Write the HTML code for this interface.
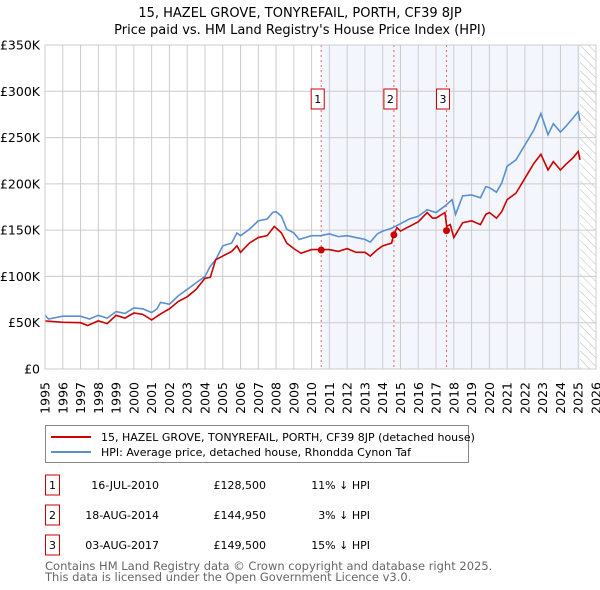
<!DOCTYPE html>
<html><head><meta charset="utf-8"><style>
body{margin:0;background:#fff;width:600px;height:590px;overflow:hidden;font-family:"Liberation Sans","DejaVu Sans",sans-serif}
svg{display:block}
</style></head><body>
<svg id="chart" width="600" height="590" viewBox="0 0 600 590" font-family="DejaVu Sans, Liberation Sans, sans-serif">
<defs><pattern id="hatch" patternUnits="userSpaceOnUse" width="6" height="6" patternTransform="rotate(-45)"><line x1="0" y1="0" x2="0" y2="6" stroke="#bbb" stroke-width="1"/></pattern></defs>
<text x="300" y="17" text-anchor="middle" font-size="13">15, HAZEL GROVE, TONYREFAIL, PORTH, CF39 8JP</text>
<text x="300" y="34" text-anchor="middle" font-size="13">Price paid vs. HM Land Registry's House Price Index (HPI)</text>
<g id="plot"></g>
<g>
<rect x="45.5" y="425.5" width="423" height="37" fill="#fff" stroke="#888"/>
<line x1="51" y1="437" x2="91" y2="437" stroke="#cc0000" stroke-width="2"/>
<text x="101" y="441" font-size="11">15, HAZEL GROVE, TONYREFAIL, PORTH, CF39 8JP (detached house)</text>
<line x1="51" y1="452" x2="91" y2="452" stroke="#5b8fd0" stroke-width="2"/>
<text x="101" y="456" font-size="11">HPI: Average price, detached house, Rhondda Cynon Taf</text>
</g>
<g id="table" font-size="11"></g>
<text x="45" y="570" font-size="11.5" fill="#666">Contains HM Land Registry data © Crown copyright and database right 2025.</text>
<text x="45" y="581" font-size="11.5" fill="#666">This data is licensed under the Open Government Licence v3.0.</text>
</svg>
<script>
const hpiYears=[1995,1995.2,1996,1997,1997.5,1998,1998.5,1999,1999.5,2000,2000.5,2001,2001.3,2001.5,2002,2002.5,2003,2003.5,2004,2004.3,2004.6,2005,2005.5,2005.8,2006,2006.5,2007,2007.5,2007.8,2008,2008.3,2008.6,2009,2009.3,2010,2010.5,2011,2011.5,2012,2012.5,2013,2013.3,2013.7,2014,2014.5,2015,2015.5,2016,2016.5,2017,2017.5,2017.9,2018.1,2018.5,2019,2019.5,2019.8,2020,2020.4,2020.7,2021,2021.5,2022,2022.5,2022.9,2023.3,2023.6,2024,2024.3,2024.7,2025,2025.1];
const hpiValues=[58,54,57,57,54,58,55,62,60,66,65,61,65,72,70,79,86,93,100,111,118,133,136,147,144,151,160,162,169,170,165,151,147,140,144,144,146,143,144,142,140,137,146,149,152,157,162,165,172,169,176,183,167,187,188,185,197,196,191,201,219,226,242,258,276,253,265,256,262,271,278,268];
const ppYears=[1995,1996,1997,1997.4,1998,1998.5,1999,1999.5,2000,2000.5,2001,2001.5,2002,2002.5,2003,2003.5,2004,2004.3,2004.6,2005,2005.5,2005.8,2006,2006.5,2007,2007.5,2007.9,2008.3,2008.6,2009,2009.4,2010,2010.5,2011,2011.5,2012,2012.5,2013,2013.3,2013.7,2014,2014.5,2014.6,2014.8,2015,2015.5,2016,2016.5,2016.8,2017,2017.5,2017.6,2017.8,2018,2018.5,2019,2019.5,2019.8,2020,2020.4,2020.7,2021,2021.5,2022,2022.5,2022.9,2023.3,2023.6,2024,2024.3,2024.7,2025,2025.1];
const ppValues=[52,50.5,50,47,52,49,58,55,60.5,59,53,59.5,65,73,78,86,98,99,118,122,127,133,126,136,142,144,154,147,136,130,125,129,129,129,127,130,126,126,122,129,133,136,144,152.6,149,154,159,169,163,163,169,154,156,142,158,160,156,167,169,163,170,183,190,206,222,232,215,224,215,221,228,235,226];
const saleLabels=["1","2","3"];
const saleYears=[2010.54,2014.63,2017.59];
const saleValues=[128.5,144.95,149.5];
const saleDates=["16-JUL-2010","18-AUG-2014","03-AUG-2017"];
const salePrices=["£128,500","£144,950","£149,500"];
const salePcts=["11% ↓ HPI","3% ↓ HPI","15% ↓ HPI"];
const yTicks=[0,50,100,150,200,250,300,350];
const yTickLabels=["£0","£50K","£100K","£150K","£200K","£250K","£300K","£350K"];
const xTicks=[1995,1996,1997,1998,1999,2000,2001,2002,2003,2004,2005,2006,2007,2008,2009,2010,2011,2012,2013,2014,2015,2016,2017,2018,2019,2020,2021,2022,2023,2024,2025,2026];

const NS="http://www.w3.org/2000/svg";
const L=45,R=596,T=45,B=369;
const xs=y=>L+(y-1995)/(2026-1995)*(R-L);
const ys=v=>B-v/350*(B-T);
const plot=document.getElementById('plot');
function mk(tag,attrs,parent){const e=document.createElementNS(NS,tag);for(const k in attrs)e.setAttribute(k,attrs[k]);(parent||plot).appendChild(e);return e;}

let e;
e=mk('rect',{x:xs(saleYears[0]),y:T,width:xs(2025.1)-xs(saleYears[0]),height:B-T,fill:'#f3f6fd'});


e=mk('rect',{x:xs(2025.1),y:T,width:R-xs(2025.1),height:B-T,fill:'url(#hatch)'});


yTicks.forEach((v,i)=>{
  e=mk('line',{x1:L,x2:R,y1:ys(v),y2:ys(v),stroke:'#ccc'});
  
  
  e=mk('text',{x:40,y:ys(v)+4.5,'text-anchor':'end','font-size':'12.5'});
  e.textContent=yTickLabels[i];
  
  
});
xTicks.forEach(yr=>{
  e=mk('line',{x1:xs(yr),x2:xs(yr),y1:T,y2:B,stroke:'#ccc'});
  
  
  e=mk('text',{transform:`translate(${xs(yr)+4.5},382) rotate(-90)`,'text-anchor':'end','font-size':'12.5'});
  e.textContent=yr;
  
  
});
saleYears.forEach((yr,i)=>{
  e=mk('line',{x1:xs(yr),x2:xs(yr),y1:T,y2:B,stroke:'#f06060','stroke-dasharray':'2,3'});
  
  
});
e=mk('polyline',{points:hpiYears.map((y,i)=>xs(y)+','+ys(hpiValues[i])).join(' '),fill:'none',stroke:'#5b8fd0','stroke-width':1.6});


e=mk('polyline',{points:ppYears.map((y,i)=>xs(y)+','+ys(ppValues[i])).join(' '),fill:'none',stroke:'#cc0000','stroke-width':1.6});


saleYears.forEach((yr,i)=>{
  e=mk('circle',{cx:xs(yr),cy:ys(saleValues[i]),r:3.5,fill:'#cc0000'});
  
  
  const bx=xs(yr)-10;
  e=mk('rect',{x:bx,y:89,width:13,height:20,fill:'#fff',stroke:'#cc0000'});
  
  
  e=mk('text',{x:bx+6.5,y:103,'text-anchor':'middle','font-size':'11'});
  e.textContent=saleLabels[i];
  
  
});
mk('rect',{x:L,y:T,width:R-L,height:B-T,fill:'none',stroke:'#ccc'});
const tbl=document.getElementById('table');
saleLabels.forEach((lab,i)=>{
  const cy=485+i*30;
  e=mk('rect',{x:45.5,y:cy-10,width:14,height:20,fill:'#fff',stroke:'#cc0000'},tbl);
  
  
  e=mk('text',{x:52.5,y:cy+4,'text-anchor':'middle'},tbl);e.textContent=lab;
  
  
  e=mk('text',{x:159,y:cy+4,'text-anchor':'end'},tbl);e.textContent=saleDates[i];
  
  
  e=mk('text',{x:266,y:cy+4,'text-anchor':'end'},tbl);e.textContent=salePrices[i];
  
  
  e=mk('text',{x:370,y:cy+4,'text-anchor':'end'},tbl);e.textContent=salePcts[i];
  
  
});
</script>
</body></html>
